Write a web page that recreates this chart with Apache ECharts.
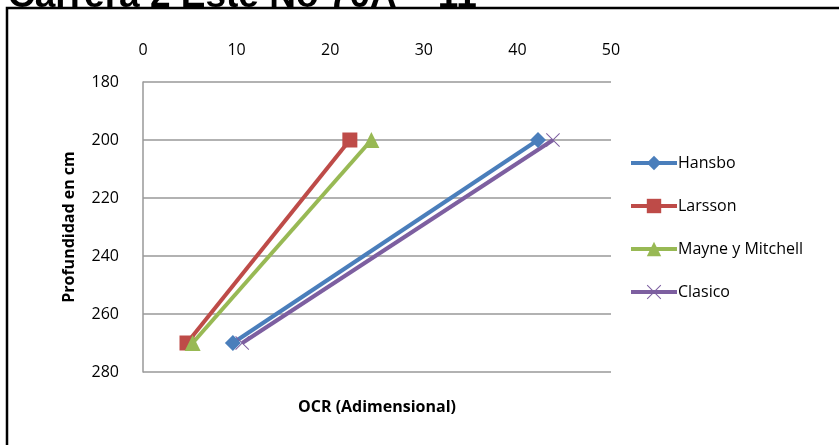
<!DOCTYPE html>
<html>
<head>
<meta charset="utf-8">
<script src="https://cdn.jsdelivr.net/npm/echarts@6/dist/echarts.min.js"></script>
<style>
  html, body { margin: 0; padding: 0; background: #fff; }
  #chart { width: 839px; height: 445px; }
</style>
</head>
<body>
<div id="chart"></div>
<script>
// Depths (cm) at which OCR was evaluated
const depths = [200, 270];

// OCR estimates per method
const hansbo = [42.2, 9.6];
const larsson = [22.1, 4.7];
const mayne = [24.4, 5.3];
const clasico = [43.8, 10.6];

const seriesNames = ['Hansbo', 'Larsson', 'Mayne y Mitchell', 'Clasico'];
const xTicks = [0, 10, 20, 30, 40, 50];
const yTicks = [180, 200, 220, 240, 260, 280];

const titleText = 'Carrera 2 Este No 70A – 11';

const pair = (vals) => vals.map((v, i) => [v, depths[i]]);

// Thin "x" marker outline built as a filled polygon
const crossPath = 'path://M0,1L1,0L10,9L19,0L20,1L11,10L20,19L19,20L10,11L1,20L0,19L9,10Z';

const font = '"Open Sans", "Noto Sans", sans-serif';

const chart = echarts.init(document.getElementById('chart'), null, { renderer: 'canvas' });

function lineSeries(name, vals, color, symbol, size) {
  return {
    name: name,
    type: 'line',
    data: pair(vals),
    symbol: symbol,
    symbolSize: size,
    showAllSymbol: true,
    lineStyle: { color: color, width: 4 },
    itemStyle: { color: color, borderWidth: 0 },
    emphasis: { disabled: true },
    z: 3
  };
}

chart.setOption({
  animation: false,
  backgroundColor: '#ffffff',
  graphic: [
    {
      type: 'rect',
      shape: { x: 7, y: 8, width: 900, height: 500 },
      style: { fill: 'none', stroke: '#000', lineWidth: 2.5 },
      z: 10
    },
    {
      type: 'text',
      x: 8,
      y: 15,
      style: {
        text: titleText,
        font: 'bold 37px "Liberation Sans", Arial, sans-serif',
        fill: '#000',
        verticalAlign: 'bottom'
      },
      z: 10
    }
  ],
  grid: { left: 143, right: 228, top: 82, bottom: 73, containLabel: false },
  legend: {
    orient: 'vertical',
    left: 624,
    top: 150,
    itemWidth: 46,
    itemHeight: 18,
    itemGap: 27,
    lineStyle: { width: 4 },
    textStyle: { fontFamily: font, fontSize: 16, color: '#000', padding: [0, 0, 0, -4] },
    data: seriesNames
  },
  xAxis: {
    type: 'value',
    position: 'top',
    min: 0,
    max: 50,
    interval: 10,
    name: 'OCR (Adimensional)',
    nameLocation: 'middle',
    nameGap: -333,
    nameTextStyle: { fontFamily: font, fontSize: 16, fontWeight: 'bold', color: '#000' },
    axisLine: { show: false },
    axisTick: { show: false },
    axisLabel: { fontFamily: font, fontSize: 16, color: '#000', margin: 24 },
    splitLine: { show: false }
  },
  yAxis: {
    type: 'value',
    inverse: true,
    min: 180,
    max: 280,
    interval: 20,
    name: 'Profundidad en cm',
    nameLocation: 'middle',
    nameGap: 66,
    nameRotate: 90,
    nameTextStyle: { fontFamily: font, fontSize: 16, fontWeight: 'bold', color: '#000' },
    axisLine: { show: true, onZero: false, lineStyle: { color: '#999', width: 1.5 } },
    axisTick: { show: false },
    axisLabel: { fontFamily: font, fontSize: 16, color: '#000', margin: 24 },
    splitLine: { show: true, lineStyle: { color: '#999', width: 1.5 } }
  },
  series: [
    lineSeries('Hansbo', hansbo, '#4A7EBB', 'diamond', 16),
    lineSeries('Larsson', larsson, '#BE4B48', 'rect', 15),
    lineSeries('Mayne y Mitchell', mayne, '#98B954', 'triangle', 16),
    lineSeries('Clasico', clasico, '#7D5FA0', crossPath, 14)
  ]
});
</script>
</body>
</html>
